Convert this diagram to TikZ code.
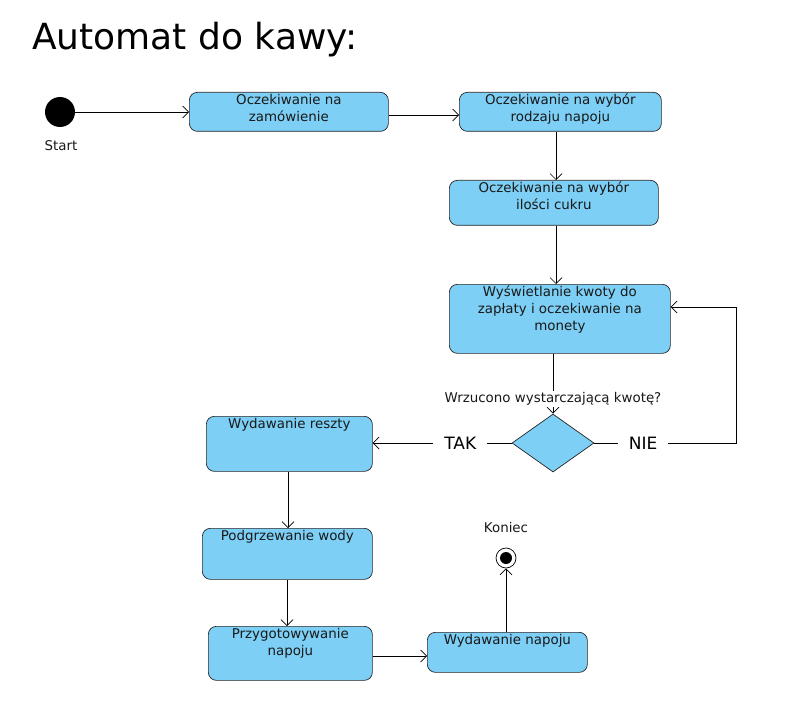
\documentclass[tikz,border=0pt]{standalone}
\usepackage{fontspec}
\setmainfont{DejaVu Sans}
\usetikzlibrary{arrows.meta,shapes.geometric,calc}
\definecolor{boxblue}{RGB}{125,207,245}
\begin{document}
\begin{tikzpicture}[x=1pt,y=-1pt,
  box/.style={draw=black!85, fill=boxblue, rounded corners=8pt, line width=0.7pt, anchor=north west, inner sep=0pt},
  txt/.style={font=\fontsize{13.4}{16.8}\selectfont, align=center, inner sep=0pt, text=black!90},
  lbl/.style={font=\fontsize{13.4}{16}\selectfont, fill=white, inner sep=1.5pt, text=black!90},
  biglbl/.style={font=\fontsize{17}{20}\selectfont, fill=white, inner xsep=11pt, inner ysep=3pt},
  arr/.style={line width=0.7pt, -{Straight Barb[length=6pt,width=12pt]}},
  ln/.style={line width=0.7pt}
]
\useasboundingbox (0,0) rectangle (787,714);
\node[anchor=base west, font=\fontsize{36}{40}\selectfont, inner sep=0pt] (title) at (32,50) {Automat do kawy:};

% start
\node[circle, fill=black, minimum size=30pt, inner sep=0pt] (start) at (60,112) {};
\node[txt] (starttxt) at (61,146) {Start};

% boxes
\node[box, minimum width=199pt, minimum height=39pt] (b1) at (189,92) {};
\node[txt, anchor=north] (t1) at ([yshift=-2pt]b1.north) {Oczekiwanie na\\zamówienie};
\node[box, minimum width=202pt, minimum height=39pt] (b2) at (459,92) {};
\node[txt, anchor=north] (t2) at ([yshift=-2pt]b2.north) {Oczekiwanie na wybór\\rodzaju napoju};
\node[box, minimum width=209pt, minimum height=45pt] (b3) at (449,180) {};
\node[txt, anchor=north] (t3) at ([yshift=-2pt]b3.north) {Oczekiwanie na wybór\\ilości cukru};
\node[box, minimum width=221pt, minimum height=69pt] (b4) at (449,284) {};
\node[txt, anchor=north] (t4) at ([yshift=-2pt]b4.north) {Wyświetlanie kwoty do\\zapłaty i oczekiwanie na\\monety};
\node[diamond, draw=black!85, fill=boxblue, line width=0.7pt, minimum width=82pt, minimum height=58pt, inner sep=0pt] (d) at (553,443) {};
\node[box, minimum width=166pt, minimum height=55pt] (b5) at (206,416) {};
\node[txt, anchor=north] (t5) at ([yshift=-2pt]b5.north) {Wydawanie reszty};
\node[box, minimum width=170pt, minimum height=51pt] (b6) at (202,528) {};
\node[txt, anchor=north] (t6) at ([yshift=-2pt]b6.north) {Podgrzewanie wody};
\node[box, minimum width=164pt, minimum height=54pt] (b7) at (208,626) {};
\node[txt, anchor=north] (t7) at ([yshift=-2pt]b7.north) {Przygotowywanie\\napoju};
\node[box, minimum width=160pt, minimum height=40pt] (b8) at (427,632) {};
\node[txt, anchor=north] (t8) at ([yshift=-2pt]b8.north) {Wydawanie napoju};

% end
\node[circle, draw=black, fill=white, line width=0.7pt, minimum size=20pt, inner sep=0pt] (end) at (506,558) {};
\node[circle, fill=black, minimum size=12pt, inner sep=0pt] (endin) at (end.center) {};
\node[txt] (endtxt) at (506,528) {Koniec};

% coordinates
\coordinate (x556) at (556,0);
\coordinate (x553) at (553,0);
\coordinate (nie1) at (736,443);
\coordinate (nie2) at (736,307);

% connectors
\draw[arr] (start.east) -- (b1.west |- start.east);
\draw[arr] (b1.east |- 0,115) -- (b2.west |- 0,115);
\draw[arr] (b2.south -| x556) -- (b3.north -| x556);
\draw[arr] (b3.south -| x556) -- (b4.north -| x556);
\draw[arr] (b4.south -| x553) -- node[lbl, pos=0.76] (q) {Wrzucono wystarczającą kwotę?} (d.north);
\draw[arr] (d.west) -- node[biglbl, pos=0.37] (tak) {TAK} (b5.east |- d.west);
\draw[arr] (d.east) -- node[biglbl, pos=0.345] (nie) {NIE} (nie1) -- (nie2) -- (b4.east |- nie2);
\draw[arr] (b5.south -| 288,0) -- (b6.north -| 288,0);
\draw[arr] (b6.south -| 287,0) -- (b7.north -| 287,0);
\draw[arr] (b7.east |- 0,656) -- (b8.west |- 0,656);
\draw[arr] (b8.north -| end) -- (end.south);
\end{tikzpicture}
\end{document}
